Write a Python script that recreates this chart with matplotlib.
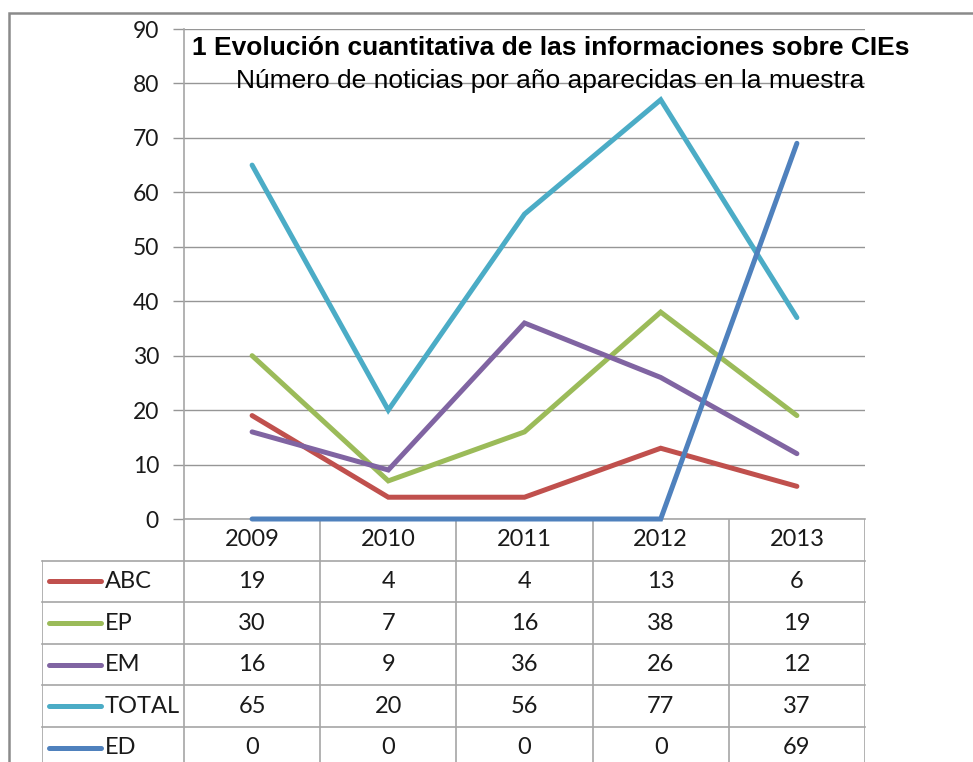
import numpy as np
import matplotlib.pyplot as plt
from matplotlib.patches import Rectangle

years = ['2009', '2010', '2011', '2012', '2013']
series_names = ['ABC', 'EP', 'EM', 'TOTAL', 'ED']
abc = [19, 4, 4, 13, 6]
ep = [30, 7, 16, 38, 19]
em = [16, 9, 36, 26, 12]
total = [65, 20, 56, 77, 37]
ed = [0, 0, 0, 0, 69]
colors = ['#C0504D', '#9BBB59', '#8064A2', '#4BACC6', '#4F81BD']
series = [abc, ep, em, total, ed]

W, H = 973, 762
fig = plt.figure(figsize=(W / 100, H / 100), dpi=100)

def box(x0, y0, x1, y1):
    return [x0 / W, 1 - y1 / H, (x1 - x0) / W, (y1 - y0) / H]

grid_c = '#969696'
tab_c = '#a6a6a6'
txt_c = '#1a1a1a'
font = 'Lato'
fs = 17

# outer chart frame
fig.patches.append(Rectangle((9 / W, -0.05), 1.2, 1 - 13 / H + 0.05, transform=fig.transFigure,
                             fill=False, edgecolor='#8a8a8a', linewidth=1.8))

# data table (drawn first, plot on top)
row_h = 41.6
colw = (865 - 184) / 5
tax = fig.add_axes(box(42, 519, 865, 762))
xl = -0.5 - (184 - 42) / colw
tax.set_xlim(xl, 4.5)
tax.set_ylim((762 - 519) / row_h, 0)
tax.axis('off')

def px(p):
    return -0.5 + (p - 184) / colw

nrows = len(series_names)
for r in range(1, nrows + 1):
    tax.plot([xl, 4.5], [r, r], color=tab_c, lw=1.2, clip_on=False)
tax.plot([xl, xl], [1, 7], color=tab_c, lw=1.2)
for k in range(len(years) + 1):
    tax.plot([k - 0.5, k - 0.5], [0, 7], color=tab_c, lw=1.2)

for j, yr in enumerate(years):
    tax.text(j, 0.5, yr, ha='center', va='center', fontsize=fs, family=font, color=txt_c)
for i, (name, vals, c) in enumerate(zip(series_names, series, colors)):
    yc = i + 1.5
    tax.plot([px(49), px(101)], [yc, yc], color=c, lw=3.6, solid_capstyle='round')
    tax.text(px(105), yc, name, ha='left', va='center', fontsize=fs, family=font, color=txt_c)
    for j, v in enumerate(vals):
        tax.text(j, yc, str(v), ha='center', va='center', fontsize=fs, family=font, color=txt_c)

# plot area
ax = fig.add_axes(box(184, 29, 865, 519))
ax.set_zorder(5)
x = np.arange(len(years))
ax.axhline(0, color=tab_c, lw=1.2, zorder=2, clip_on=False)
for vals, c in zip(series, colors):
    ax.plot(x, vals, color=c, linewidth=3.6, solid_capstyle='round', solid_joinstyle='miter',
            zorder=3, clip_on=False)
ax.set_xlim(-0.5, 4.5)
ax.set_ylim(0, 90)
ax.set_yticks(range(0, 91, 10))
ax.set_xticks([])
ax.yaxis.grid(True, color=grid_c, linewidth=1)
ax.set_axisbelow(True)
for s in ['top', 'right', 'bottom']:
    ax.spines[s].set_visible(False)
ax.spines['left'].set_color(tab_c)
ax.spines['left'].set_linewidth(1.2)
ax.tick_params(axis='y', length=8, color=grid_c, width=1, pad=10, labelsize=16.5, labelcolor=txt_c)
for lab in ax.get_yticklabels():
    lab.set_fontfamily(font)
ax.patch.set_alpha(0)

fig.text(551 / W, 1 - 48 / H, '1 Evolución cuantitativa de las informaciones sobre CIEs',
         ha='center', va='center', fontsize=19, fontweight='bold', family='Liberation Sans',
         color='black', zorder=10)
fig.text(550 / W, 1 - 81 / H, 'Número de noticias por año aparecidas en la muestra',
         ha='center', va='center', fontsize=19, family='Liberation Sans', color='black', zorder=10)

fig.savefig('out.png', dpi=100)
